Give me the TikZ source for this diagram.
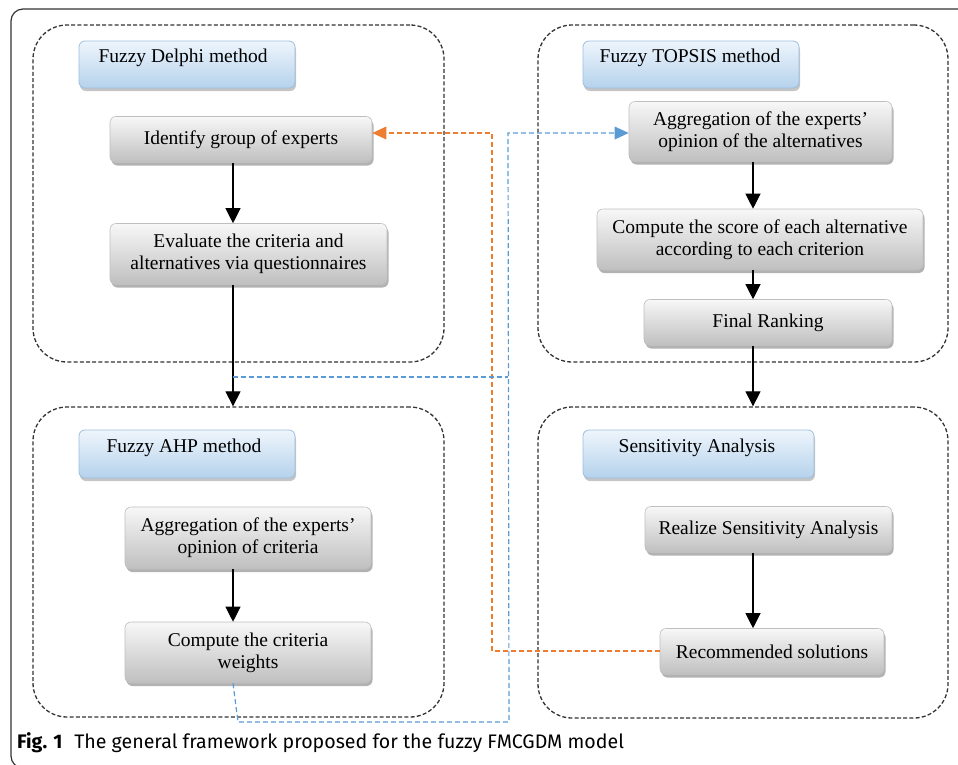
\documentclass[tikz,border=0pt]{standalone}
\usepackage{fontspec}
\setmainfont{Liberation Serif}
\newfontfamily\capfont{Fira Sans}
\usetikzlibrary{arrows.meta,shadows,calc}
\definecolor{orng}{HTML}{ED7D31}
\definecolor{blu}{HTML}{5B9BD5}
\definecolor{ttop}{HTML}{EEF5FC}
\definecolor{tbot}{HTML}{B5D2EC}
\definecolor{tdraw}{HTML}{9DBEDD}
\definecolor{frm}{HTML}{333333}
\tikzset{
  txt/.style={font=\fontsize{19.5}{22}\selectfont},
  graybox/.style={rounded corners=6pt, draw=gray!50, line width=0.6pt,
    top color=gray!6, bottom color=gray!50, align=center, txt, inner sep=0pt,
    drop shadow={shadow xshift=1.5pt, shadow yshift=-3pt, fill=gray!75, opacity=0.8}},
  titlebox/.style={rounded corners=6pt, draw=tdraw, line width=0.8pt,
    top color=ttop, bottom color=tbot, inner sep=0pt,
    drop shadow={shadow xshift=1pt, shadow yshift=-3pt, fill=gray!65, opacity=0.7}},
  groupbox/.style={rounded corners=34pt, draw=frm, line width=1.3pt,
    dash pattern=on 4pt off 2.2pt, inner sep=0pt},
  flow/.style={line width=1.1pt, black, -{Triangle[width=15pt,length=15pt]}},
  oline/.style={orng, line width=1.2pt, dash pattern=on 5pt off 3pt},
  bline/.style={blu, line width=1.2pt, dash pattern=on 5pt off 3pt},
}
\begin{document}
\begin{tikzpicture}[x=1pt,y=-1pt]
\useasboundingbox (0,0) rectangle (958,764);
% outer frame
\begin{scope}
\clip (0,0) rectangle (958,764);
\draw[frm, line width=1.2pt, rounded corners=12pt] (11,9) rectangle (980,768);
\end{scope}
% group boxes
\node[groupbox, minimum width=411pt, minimum height=337pt] (delphi) at (238.5,193.5) {};
\node[groupbox, minimum width=410pt, minimum height=337pt] (topsis) at (743,193.5) {};
\node[groupbox, minimum width=411pt, minimum height=310pt] (ahp) at (238.5,562) {};
\node[groupbox, minimum width=410pt, minimum height=311pt] (sens) at (743,562.5) {};
% titles
\node[titlebox, minimum width=216pt, minimum height=47pt] (delphiT) at (187,64.5) {};
\node[txt] at (183,58) {Fuzzy Delphi method};
\node[titlebox, minimum width=216pt, minimum height=47pt] (topsisT) at (691,64.5) {};
\node[txt] at (690,58) {Fuzzy TOPSIS method};
\node[titlebox, minimum width=216pt, minimum height=48pt] (ahpT) at (187,454) {};
\node[txt] at (184,448) {Fuzzy AHP method};
\node[titlebox, minimum width=231pt, minimum height=48pt] (sensT) at (698.5,454) {};
\node[txt] at (697,448) {Sensitivity Analysis};
% step boxes
\node[graybox, minimum width=262pt, minimum height=46pt] (id) at (241,139.5) {Identify group of experts};
\node[graybox, minimum width=277pt, minimum height=61pt] (ev) at (248.5,254) {Evaluate the criteria and\\alternatives via questionnaires};
\node[graybox, minimum width=263pt, minimum height=60pt] (agA) at (760.5,131.5) {Aggregation of the experts'\\opinion of the alternatives};
\node[graybox, minimum width=326pt, minimum height=61pt] (cs) at (760,239.5) {Compute the score of each alternative\\according to each criterion};
\node[graybox, minimum width=248pt, minimum height=46pt] (fr) at (768,322.5) {Final Ranking};
\node[graybox, minimum width=246pt, minimum height=62pt] (agC) at (248,538) {Aggregation of the experts'\\opinion of criteria};
\node[graybox, minimum width=246pt, minimum height=61pt] (cw) at (248,652.5) {Compute the criteria\\weights};
\node[graybox, minimum width=247pt, minimum height=46pt] (rs) at (768.5,529.5) {Realize Sensitivity Analysis};
\node[graybox, minimum width=224pt, minimum height=46pt] (rec) at (772,651.5) {Recommended solutions};
% column lines
\coordinate (xL) at (233,0);
\coordinate (xR) at (753,0);
% black flow arrows
\draw[flow] (id.south -| xL) -- (ev.north -| xL);
\draw[flow] (ev.south -| xL) -- (ahp.north -| xL);
\draw[flow] (agC.south -| xL) -- (cw.north -| xL);
\draw[flow] (agA.south -| xR) -- (cs.north -| xR);
\draw[flow] (cs.south -| xR) -- (fr.north -| xR);
\draw[flow] (fr.south -| xR) -- (sens.north -| xR);
\draw[flow] (rs.south -| xR) -- (rec.north -| xR);
% orange feedback
\coordinate (o1) at (492,651);
\coordinate (o2) at (492,133);
\draw[oline] (rec.west |- o1) -- (o1) -- (o2) -- ($(id.east |- o2)+(12,0)$);
\fill[orng] (id.east |- o2) -- ++(14,-6.5) -- ++(0,13) -- cycle;
% blue links
\coordinate (b0) at (238,722);
\coordinate (b1) at (509,722);
\coordinate (b2) at (508,133);
\coordinate (bm) at (233,377);
\draw[bline] (cw.south -| xL) -- (b0) -- (b1) -- (b2) -- ($(agA.west |- b2)+(-12,0)$);
\draw[bline] (bm) -- (bm -| b2);
\fill[blu] (agA.west |- b2) -- ++(-14,-6.5) -- ++(0,13) -- cycle;
% caption
\node[anchor=base west, font=\capfont\fontsize{19.6}{22}\selectfont, inner sep=0pt] (cap) at (17,748)
  {\textbf{Fig. 1}\hspace{0.6em}The general framework proposed for the fuzzy FMCGDM model};
\end{tikzpicture}
\end{document}
